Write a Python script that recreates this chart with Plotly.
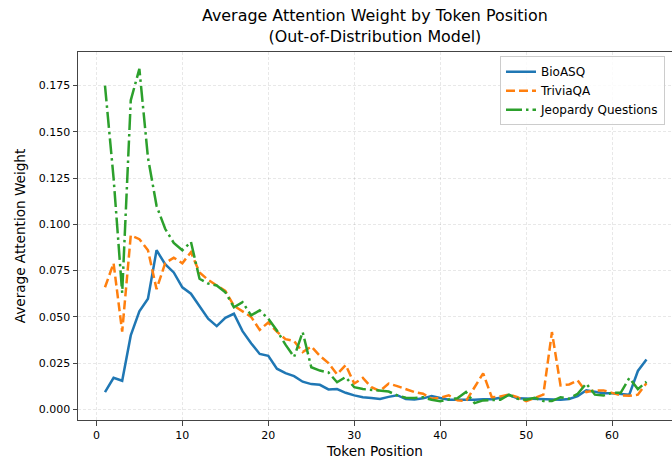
import plotly.graph_objects as go

positions = list(range(1, 65))

bioasq = [0.0093, 0.0171, 0.0155, 0.0400, 0.0530, 0.0598, 0.0860, 0.0785, 0.0740, 0.0660,
          0.0625, 0.0560, 0.0490, 0.0450, 0.0495, 0.0517, 0.0423, 0.0358, 0.0300, 0.0290,
          0.0220, 0.0196, 0.0180, 0.0150, 0.0137, 0.0133, 0.0108, 0.0110, 0.0090, 0.0076,
          0.0066, 0.0062, 0.0056, 0.0068, 0.0077, 0.0056, 0.0054, 0.0060, 0.0072, 0.0062,
          0.0052, 0.0052, 0.0050, 0.0052, 0.0055, 0.0055, 0.0063, 0.0078, 0.0060, 0.0058,
          0.0057, 0.0053, 0.0052, 0.0053, 0.0057, 0.0072, 0.0104, 0.0098, 0.0088, 0.0088,
          0.0083, 0.0080, 0.0208, 0.0270]

triviaqa = [0.066, 0.079, 0.042, 0.094, 0.092, 0.086, 0.065, 0.079, 0.082, 0.079,
            0.085, 0.074, 0.070, 0.067, 0.064, 0.056, 0.053, 0.050, 0.043, 0.047,
            0.042, 0.038, 0.037, 0.031, 0.034, 0.029, 0.025, 0.019, 0.024, 0.014,
            0.017, 0.012, 0.010, 0.014, 0.0126, 0.0108, 0.0094, 0.0085, 0.0058, 0.0063,
            0.0076, 0.0049, 0.0045, 0.012, 0.0195, 0.0066, 0.0070, 0.0081, 0.0066, 0.0045,
            0.0063, 0.0080, 0.0418, 0.0130, 0.0135, 0.0157, 0.0094, 0.0103, 0.0103, 0.0090,
            0.0076, 0.0074, 0.0080, 0.0142]

jeopardy = [0.175, 0.125, 0.063, 0.167, 0.184, 0.136, 0.110, 0.0976, 0.090, 0.086,
            0.0905, 0.0706, 0.068, 0.067, 0.0633, 0.0552, 0.058, 0.0508, 0.0535, 0.049,
            0.0427, 0.035, 0.0283, 0.0418, 0.0228, 0.021, 0.020, 0.0147, 0.0175, 0.012,
            0.011, 0.0106, 0.0103, 0.0097, 0.0076, 0.0063, 0.0062, 0.0066, 0.0052, 0.0045,
            0.0054, 0.0060, 0.0094, 0.0034, 0.0049, 0.0049, 0.0052, 0.0080, 0.0058, 0.0052,
            0.0063, 0.0045, 0.0045, 0.0066, 0.0058, 0.0085, 0.0140, 0.0080, 0.0075, 0.0090,
            0.0090, 0.0170, 0.0110, 0.0150]

x_ticks = [0, 10, 20, 30, 40, 50, 60]
y_ticks = [0.000, 0.025, 0.050, 0.075, 0.100, 0.125, 0.150, 0.175]

FONT = "DejaVu Sans"

fig = go.Figure()
fig.add_trace(go.Scatter(x=positions, y=bioasq, mode="lines", name="BioASQ",
                         line=dict(color="#1f77b4", width=2.5, dash="solid")))
fig.add_trace(go.Scatter(x=positions, y=triviaqa, mode="lines", name="TriviaQA",
                         line=dict(color="#ff7f0e", width=2.5, dash="9px,4px")))
fig.add_trace(go.Scatter(x=positions, y=jeopardy, mode="lines", name="Jeopardy Questions",
                         line=dict(color="#2ca02c", width=2.5, dash="16px,4px,2.5px,4px")))

W, H = 672, 461
l, r, t, b = 78.3, 0, 51.7, 41
pw = W - l - r
ph = H - t - b
fig.update_layout(
    width=W, height=H,
    margin=dict(l=l, r=r, t=t, b=b, pad=0, autoexpand=False),
    paper_bgcolor="white", plot_bgcolor="white",
    font=dict(family=FONT, color="black", size=11),
    legend=dict(x=(665 - l) / pw, y=1 - (56 - t) / ph, xanchor="right", yanchor="top",
                bgcolor="rgba(255,255,255,0.8)", bordercolor="#cccccc", borderwidth=1,
                font=dict(family=FONT, size=12, color="black"),
                tracegroupgap=0, itemwidth=30),
    showlegend=True,
    annotations=[dict(text="Average Attention Weight by Token Position<br>(Out-of-Distribution Model)",
                      xref="paper", yref="paper",
                      x=(375.5 - l) / pw, y=1 + (t - 4) / ph,
                      xanchor="center", yanchor="top", showarrow=False, align="center",
                      font=dict(family=FONT, size=15.9, color="black"))],
)
fig.update_xaxes(range=[-2.14, 66.97], tickmode="array", tickvals=x_ticks,
                 ticktext=[str(v) for v in x_ticks], automargin=False,
                 showline=True, linecolor="#444444", linewidth=1, mirror=True,
                 ticks="outside", ticklen=4.5, tickcolor="#444444",
                 showgrid=True, gridcolor="rgba(0,0,0,0.09)", griddash="3px,2px", gridwidth=0.8,
                 zeroline=False,
                 title=dict(text="Token Position", font=dict(family=FONT, size=13.6), standoff=5),
                 tickfont=dict(family=FONT, size=11))
fig.update_yaxes(range=[-0.0057, 0.1931], tickmode="array", tickvals=y_ticks,
                 ticktext=[f"{v:.3f}" for v in y_ticks], automargin=False,
                 showline=True, linecolor="#444444", linewidth=1, mirror=True,
                 ticks="outside", ticklen=4.5, tickcolor="#444444",
                 showgrid=True, gridcolor="rgba(0,0,0,0.09)", griddash="3px,2px", gridwidth=0.8,
                 zeroline=False,
                 title=dict(text="Average Attention Weight", font=dict(family=FONT, size=13.6), standoff=10),
                 tickfont=dict(family=FONT, size=11))

fig.write_html("out.html", config={"displayModeBar": False},
               post_script="document.body.style.margin='0';")
